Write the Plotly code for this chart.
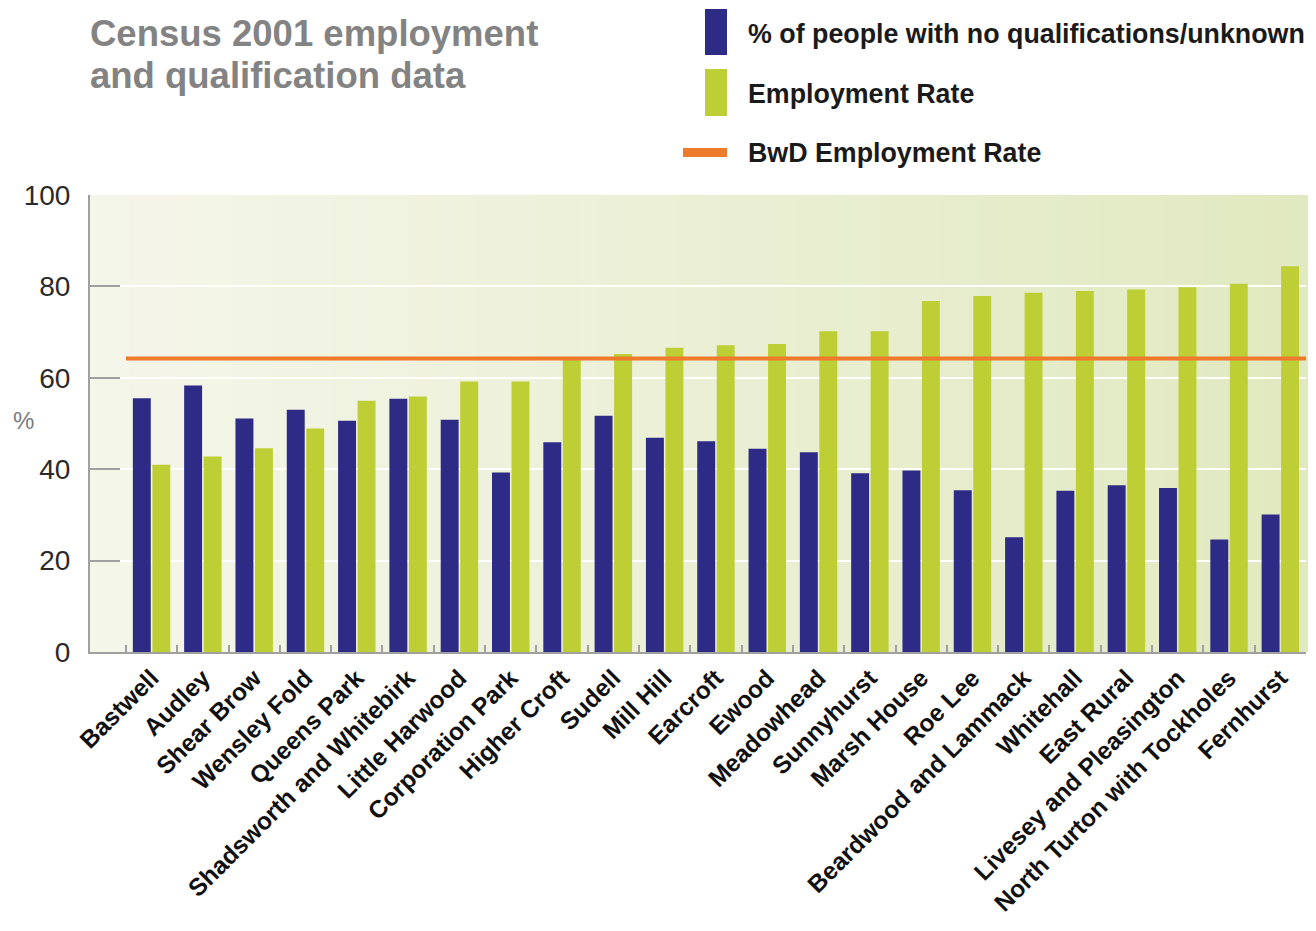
import plotly.graph_objects as go

# ---------------- data ----------------
wards = ["Bastwell", "Audley", "Shear Brow", "Wensley Fold", "Queens Park",
         "Shadsworth and Whitebirk", "Little Harwood", "Corporation Park",
         "Higher Croft", "Sudell", "Mill Hill", "Earcroft", "Ewood",
         "Meadowhead", "Sunnyhurst", "Marsh House", "Roe Lee",
         "Beardwood and Lammack", "Whitehall", "East Rural",
         "Livesey and Pleasington", "North Turton with Tockholes", "Fernhurst"]
no_qual = [55.5, 58.3, 51.1, 53.0, 50.6, 55.4, 50.8, 39.3, 45.9, 51.7, 46.9,
           46.1, 44.5, 43.7, 39.1, 39.7, 35.4, 25.1, 35.3, 36.5, 35.9, 24.6, 30.1]
employment = [41.0, 42.8, 44.6, 48.9, 55.0, 55.9, 59.2, 59.2, 64.1, 65.2, 66.6,
              67.1, 67.4, 70.2, 70.2, 76.8, 77.9, 78.6, 79.0, 79.3, 79.8, 80.6, 84.4]
bwd_rate = 64.2
y_ticks = [0, 20, 40, 60, 80, 100]

series_names = ["% of people with no qualifications/unknown", "Employment Rate",
                "BwD Employment Rate"]
title_lines = ["Census 2001 employment", "and qualification data"]

# ---------------- style ----------------
BLUE = "#2e2b86"
GREEN = "#bdcf34"
ORANGE = "#ee7b2c"
AXIS_GREY = "#a0a0a0"
FONT_BOLD = "Liberation Sans, Arial, sans-serif"
FONT = "Liberation Sans, Arial, sans-serif"

PAGE_OFF = 8            # default body margin of the html page
W, H = 1316 - PAGE_OFF, 931 - PAGE_OFF
ML, MR, MT, MB = 90 - PAGE_OFF, 10, 195 - PAGE_OFF, 279
PW = W - ML - MR
PH = H - MT - MB


def px_x(px):
    return (px - PAGE_OFF - ML) / PW


def px_y(py):
    return (MT + PH - (py - PAGE_OFF)) / PH


fig = go.Figure()
fig.add_trace(go.Bar(x=wards, y=no_qual, name=series_names[0],
                     marker=dict(color=BLUE, line=dict(width=0))))
fig.add_trace(go.Bar(x=wards, y=employment, name=series_names[1],
                     marker=dict(color=GREEN, line=dict(width=0))))

shapes = []
# horizontal gradient background of the plot area
N = 60
c0 = (0xf5, 0xf6, 0xea)
c1 = (0xe1, 0xe9, 0xc0)
for i in range(N):
    t = (i + 0.5) / N
    col = tuple(round(a + (b - a) * t) for a, b in zip(c0, c1))
    shapes.append(dict(type="rect", xref="x domain", yref="y domain",
                       x0=i / N, x1=(i + 1) / N + 0.002, y0=0, y1=1,
                       fillcolor="rgb(%d,%d,%d)" % col, line=dict(width=0),
                       layer="below"))

# BwD employment rate reference line across all categories
shapes.append(dict(type="line", xref="x", yref="y",
                   x0=-0.5, x1=len(wards) - 0.5, y0=bwd_rate, y1=bwd_rate,
                   line=dict(color=ORANGE, width=4), layer="above"))

# manual legend swatches
shapes.append(dict(type="rect", xref="paper", yref="paper",
                   x0=px_x(705), x1=px_x(727), y0=px_y(55), y1=px_y(9),
                   fillcolor=BLUE, line=dict(width=0)))
shapes.append(dict(type="rect", xref="paper", yref="paper",
                   x0=px_x(705), x1=px_x(727), y0=px_y(116), y1=px_y(69),
                   fillcolor=GREEN, line=dict(width=0)))
shapes.append(dict(type="rect", xref="paper", yref="paper",
                   x0=px_x(683), x1=px_x(727), y0=px_y(157), y1=px_y(148),
                   fillcolor=ORANGE, line=dict(width=0)))

annotations = []
for name, cy in zip(series_names, [34, 94, 153]):
    annotations.append(dict(text="<b>%s</b>" % name, xref="paper", yref="paper",
                            x=px_x(746), y=px_y(cy), xanchor="left", yanchor="middle",
                            showarrow=False,
                            font=dict(family=FONT_BOLD, size=26.8, color="#1a1a1a")))
for line, cy in zip(title_lines, [33, 76]):
    annotations.append(dict(text="<b>%s</b>" % line, xref="paper", yref="paper",
                            x=px_x(88), y=px_y(cy), xanchor="left", yanchor="middle",
                            align="left", showarrow=False,
                            font=dict(family=FONT_BOLD, size=36.5, color="#838383")))
annotations.append(dict(text="%", xref="paper", yref="paper",
                        x=px_x(23), y=px_y(420), xanchor="center", yanchor="middle",
                        showarrow=False,
                        font=dict(family=FONT, size=24, color="#7a7a7a")))

fig.update_layout(
    width=W, height=H,
    margin=dict(l=ML, r=MR, t=MT, b=MB, autoexpand=False),
    paper_bgcolor="white", plot_bgcolor="white",
    barmode="group", bargap=0.24, bargroupgap=0.08,
    showlegend=False,
    shapes=shapes, annotations=annotations,
    font=dict(family=FONT, color="#222"),
)
fig.update_xaxes(
    type="category", range=[-1.2, len(wards) - 0.5],
    tickson="boundaries", ticks="inside", ticklen=7, tickwidth=1.5,
    tickcolor=AXIS_GREY, showgrid=False,
    showline=True, linecolor=AXIS_GREY, linewidth=2,
    tickangle=-45,
    tickfont=dict(family=FONT_BOLD, size=24.5, color="#111", weight="bold"),
)
fig.update_yaxes(
    range=[0, 100], tickvals=y_ticks, ticks="inside", ticklen=30, tickwidth=2,
    tickcolor=AXIS_GREY, showline=True, linecolor=AXIS_GREY, linewidth=2,
    showgrid=True, gridcolor="white", gridwidth=2, zeroline=False,
    ticklabelstandoff=12,
    tickfont=dict(family=FONT, size=28, color="#2a2a2a"),
)

fig.write_html("out.html")
